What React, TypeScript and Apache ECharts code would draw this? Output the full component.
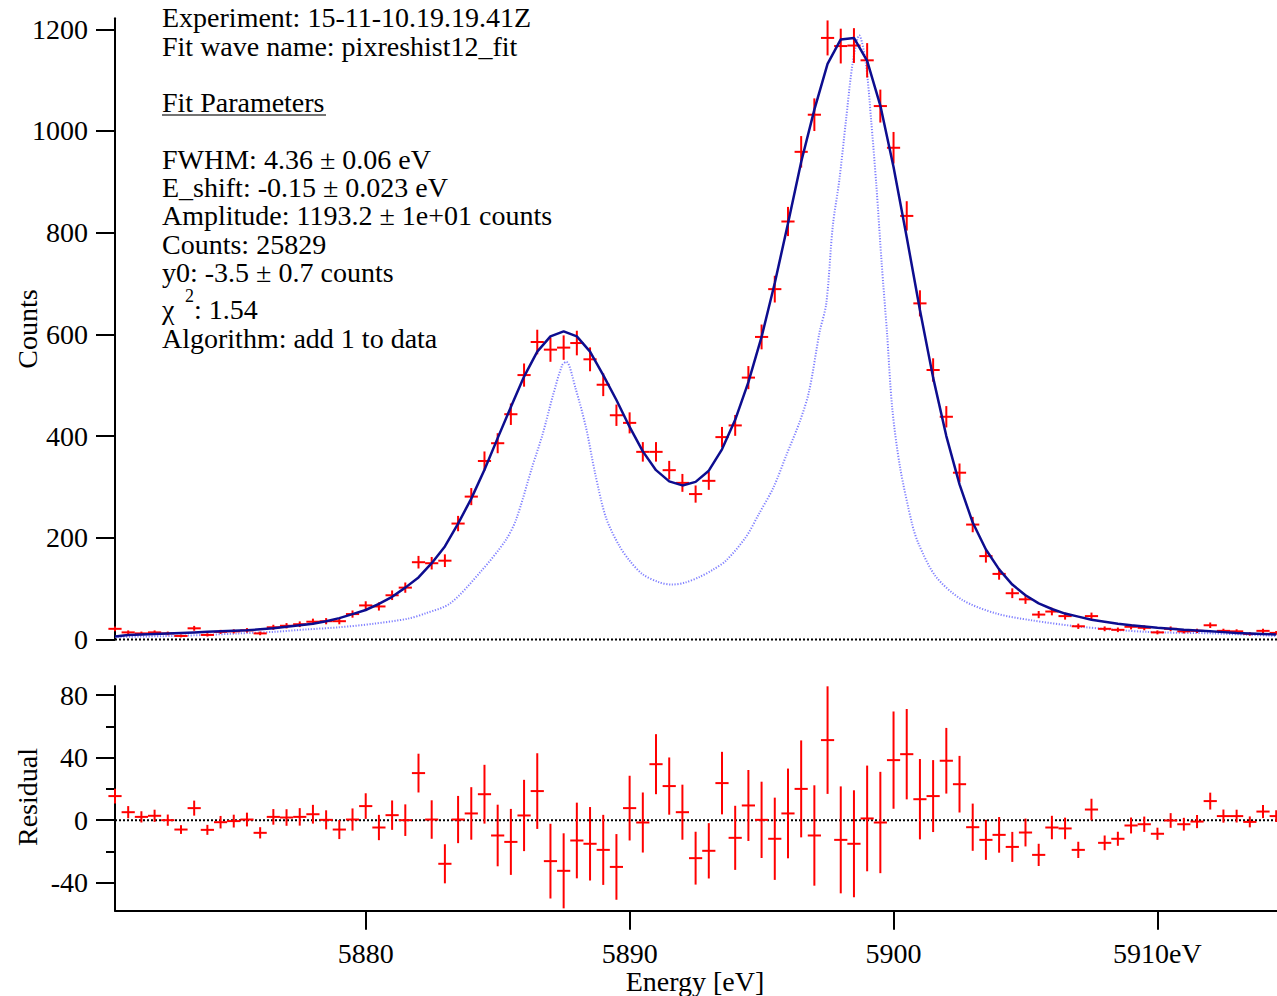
import React, { useEffect, useRef } from "react";
import * as echarts from "echarts";

// ---------- data ----------
const energies = [
  5870.5, 5871, 5871.5, 5872, 5872.5, 5873, 5873.5, 5874, 5874.5, 5875,
  5875.5, 5876, 5876.5, 5877, 5877.5, 5878, 5878.5, 5879, 5879.5, 5880,
  5880.5, 5881, 5881.5, 5882, 5882.5, 5883, 5883.5, 5884, 5884.5, 5885,
  5885.5, 5886, 5886.5, 5887, 5887.5, 5888, 5888.5, 5889, 5889.5, 5890,
  5890.5, 5891, 5891.5, 5892, 5892.5, 5893, 5893.5, 5894, 5894.5, 5895,
  5895.5, 5896, 5896.5, 5897, 5897.5, 5898, 5898.5, 5899, 5899.5, 5900,
  5900.5, 5901, 5901.5, 5902, 5902.5, 5903, 5903.5, 5904, 5904.5, 5905,
  5905.5, 5906, 5906.5, 5907, 5907.5, 5908, 5908.5, 5909, 5909.5, 5910,
  5910.5, 5911, 5911.5, 5912, 5912.5, 5913, 5913.5, 5914, 5914.5,
];

const counts = [
  21, 14, 12, 14, 12, 7, 22, 9, 15, 16,
  18, 12, 24, 27, 30, 35, 36, 36, 50, 67,
  65, 87, 102, 152, 150, 155, 228, 281, 351, 386,
  443, 520, 585, 570, 574, 583, 551, 501, 441, 426,
  369, 369, 333, 308, 286, 312, 398, 421, 515, 595,
  689, 822, 959, 1032, 1183, 1167, 1168, 1139, 1049, 967,
  833, 661, 530, 438, 328, 226, 164, 129, 91, 79,
  49, 55, 46, 26, 46, 21, 19, 25, 23, 14,
  21, 16, 17, 28, 17, 16, 11, 17, 13,
];

const countErrors = [
  4.7, 3.9, 3.6, 3.9, 3.6, 2.8, 4.8, 3.2, 4.0, 4.1,
  4.4, 3.6, 5.0, 5.3, 5.6, 6.0, 6.1, 6.1, 7.1, 8.2,
  8.1, 9.4, 10.1, 12.4, 12.3, 12.5, 15.1, 16.8, 18.8, 19.7,
  21.1, 22.8, 24.2, 23.9, 24.0, 24.2, 23.5, 22.4, 21.0, 20.7,
  19.2, 19.2, 18.3, 17.6, 16.9, 17.7, 20.0, 20.5, 22.7, 24.4,
  26.3, 28.7, 31.0, 32.1, 34.4, 34.2, 34.2, 33.8, 32.4, 31.1,
  28.9, 25.7, 23.0, 21.0, 18.1, 15.1, 12.8, 11.4, 9.6, 8.9,
  7.1, 7.5, 6.9, 5.2, 6.9, 4.7, 4.5, 5.1, 4.9, 3.9,
  4.7, 4.1, 4.2, 5.4, 4.2, 4.1, 3.5, 4.2, 3.7,
];

const fitCounts = [
  6, 9, 10, 11, 12, 13, 14, 15, 16, 17,
  18, 20, 22, 25, 28, 31, 36, 42, 50, 58,
  70, 84, 102, 122, 150, 183, 228, 277, 334, 396,
  457, 517, 566, 596, 606, 596, 566, 520, 471, 418,
  370, 333, 311, 303, 310, 332, 374, 432, 506, 595,
  701, 818, 939, 1042, 1132, 1180, 1183, 1138, 1050, 929,
  791, 648, 515, 400, 305, 230, 177, 138, 108, 87,
  71, 60, 51, 45, 39, 35, 31, 28, 25.5, 23,
  21, 19, 17.5, 16, 14.5, 13, 12, 11, 10,
];

const residuals = [
  15.4, 5.1, 2.1, 2.8, 0, -6, 7.7, -6.2, -1.3, -0.6,
  0.4, -8.1, 2.1, 1.7, 2.1, 3.8, 0.2, -6, 0.4, 9,
  -4.7, 3.2, 0, 30.1, 0.4, -27.9, 0.4, 4.3, 16.6, -9.8,
  -13.9, 3, 18.6, -26.2, -32.4, -13, -15.1, -19, -29.9, 7.7,
  -1.5, 35.8, 21.8, 5.1, -24.3, -19.6, 23.7, -11.3, 9.4, 0.2,
  -11.9, 4.3, 20, -9.8, 51.2, -12.6, -15.1, 1.1, -1.5, 38.4,
  42.2, 13.4, 15.4, 38, 23, -4.5, -12.6, -9.4, -17.1, -7.9,
  -22.2, -4.7, -5.3, -19, 6.8, -14.5, -11.9, -3.4, -2.6, -8.7,
  -0.2, -2.6, -0.9, 12.2, 2.6, 2.6, -1.1, 5.5, 2.6,
];

// intrinsic line shape (dotted light-blue curve)
const shapeEnergies = [
  5870.5, 5872.7, 5873.9, 5875.2, 5876.5, 5877.8, 5879.0, 5880.3, 5881.6, 5882.3,
  5883.2, 5884.4, 5885.3, 5885.7, 5886.3, 5886.7, 5887.1, 5887.45, 5887.6, 5887.95,
  5888.35, 5888.7, 5889.1, 5889.6, 5890.0, 5890.5, 5891.1, 5891.6, 5892.1, 5892.65,
  5893.15, 5893.65, 5894.4, 5894.9, 5895.45, 5895.95, 5896.45, 5896.8, 5897.2, 5897.45,
  5897.7, 5897.95, 5898.2, 5898.45, 5898.7, 5898.95, 5899.15, 5899.35, 5899.55, 5899.75,
  5899.95, 5900.25, 5900.7, 5900.95, 5901.6, 5902.6, 5903.9, 5905.2, 5907.1, 5909.6,
  5912.1, 5914.5,
];
const shapeCounts = [
  5, 7, 9, 12, 15, 20, 24, 31, 41, 52,
  71, 136, 195, 236, 338, 403, 481, 540, 546, 494,
  416, 325, 240, 185, 155, 128, 113, 108, 112, 123,
  137, 155, 201, 247, 299, 364, 429, 488, 605, 660,
  814, 905, 1022, 1133, 1188, 1133, 1022, 892, 740, 605,
  455, 338, 228, 188, 124, 78, 51, 38, 25, 15,
  12, 7,
];

const countTicks = [0, 200, 400, 600, 800, 1000, 1200];
const residualTicks = [-40, 0, 40, 80];
const residualMinorTicks = [-20, 20, 60];
const energyTicks = [5880, 5890, 5900, 5910];

const infoLines = [
  "Experiment: 15-11-10.19.19.41Z",
  "Fit wave name: pixreshist12_fit",
  "",
  "Fit Parameters",
  "",
  "FWHM: 4.36 ± 0.06 eV",
  "E_shift: -0.15 ± 0.023 eV",
  "Amplitude: 1193.2 ± 1e+01 counts",
  "Counts: 25829",
  "y0: -3.5 ± 0.7 counts",
];

// ---------- layout constants ----------
const X_MIN = 5870.5;
const X_MAX = 5914.53;
const FONT = '"Liberation Serif", "Times New Roman", Times, serif';
const RED = "#ff0000";

function crossRenderer(params: any, api: any) {
  const x = api.value(0);
  const y = api.value(1);
  const e = api.value(2);
  const top = api.coord([x, y + e]);
  const bot = api.coord([x, y - e]);
  const l = api.coord([x - 0.25, y]);
  const r = api.coord([x + 0.25, y]);
  const style = { stroke: RED, lineWidth: 2, fill: null };
  return {
    type: "group",
    children: [
      { type: "line", shape: { x1: top[0], y1: top[1], x2: bot[0], y2: bot[1] }, style },
      { type: "line", shape: { x1: l[0], y1: l[1], x2: r[0], y2: r[1] }, style },
    ],
  };
}

function textEl(text: string, x: number, y: number, size = 28, extra: any = {}) {
  return {
    type: "text",
    x,
    y,
    silent: true,
    ...extra,
    style: {
      text,
      fontSize: size,
      fontFamily: FONT,
      fill: "#000",
      align: extra.align || "left",
      textAlign: extra.align || "left",
      verticalAlign: "middle",
      textVerticalAlign: "middle",
    },
  };
}

export default function App() {
  const ref = useRef<HTMLDivElement>(null);

  useEffect(() => {
    document.body.style.margin = "0";
    if (!ref.current) return;
    const chart = echarts.init(ref.current, undefined, { renderer: "svg" });

    const axisLineStyle = { color: "#000", width: 2 };
    const labelStyle = { fontSize: 28, fontFamily: FONT, color: "#000" };
    const plain = (v: number) => String(v);

    const topCross = energies.map((e, i) => [e, counts[i], countErrors[i]]);
    const resCross = energies.map((e, i) => [e, residuals[i], countErrors[i]]);
    const fitLine = energies.map((e, i) => [e, fitCounts[i]]);
    const shapeLine = shapeEnergies.map((e, i) => [e, shapeCounts[i]]);
    const zeroLine = [
      [X_MIN, 0],
      [X_MAX, 0],
    ];

    const lineTop = 27.3 - 9.5;
    const pitch = 28.3;
    const graphics: any[] = [];
    infoLines.forEach((t, i) => {
      if (t) graphics.push(textEl(t, 162, lineTop + i * pitch));
    });
    graphics.push({
      type: "line",
      silent: true,
      shape: { x1: 162, y1: 115, x2: 326, y2: 115 },
      style: { stroke: "#444", lineWidth: 1.5 },
    });
    graphics.push(textEl("χ", 162, 309.8));
    graphics.push(textEl("2", 185, 296, 18));
    graphics.push(textEl(": 1.54", 194, 309.8));
    graphics.push(textEl("Algorithm: add 1 to data", 162, 338.2));
    graphics.push(textEl("Counts", 27, 329, 28, { rotation: Math.PI / 2, align: "center" }));
    graphics.push(textEl("Residual", 27, 797, 28, { rotation: Math.PI / 2, align: "center" }));
    graphics.push(textEl("Energy [eV]", 695, 981, 28, { align: "center" }));

    chart.setOption({
      animation: false,
      backgroundColor: "#fff",
      grid: [
        { left: 115, width: 1162, top: 18.3, height: 621.2 },
        { left: 115, width: 1162, top: 686, height: 224.7 },
      ],
      xAxis: [
        { gridIndex: 0, type: "value", min: X_MIN, max: X_MAX, show: false },
        {
          gridIndex: 1,
          type: "value",
          min: X_MIN,
          max: X_MAX,
          axisLine: { show: true, onZero: false, lineStyle: axisLineStyle },
          axisTick: { show: true, customValues: energyTicks, length: 19, lineStyle: axisLineStyle },
          axisLabel: {
            ...labelStyle,
            customValues: energyTicks,
            margin: 29,
            formatter: (v: number) => (v === 5910 ? "5910eV" : String(v)),
          },
          splitLine: { show: false },
        },
      ],
      yAxis: [
        {
          gridIndex: 0,
          type: "value",
          min: 0,
          max: 1221.6,
          axisLine: { show: true, onZero: false, lineStyle: axisLineStyle },
          axisTick: { show: true, customValues: countTicks, length: 19, lineStyle: axisLineStyle },
          axisLabel: { ...labelStyle, customValues: countTicks, margin: 27, formatter: plain },
          splitLine: { show: false },
        },
        {
          gridIndex: 1,
          type: "value",
          min: -57.9,
          max: 85.8,
          axisLine: { show: true, onZero: false, lineStyle: axisLineStyle },
          axisTick: { show: true, customValues: residualTicks, length: 19, lineStyle: axisLineStyle },
          axisLabel: { ...labelStyle, customValues: residualTicks, margin: 27, formatter: plain },
          splitLine: { show: false },
        },
        {
          gridIndex: 1,
          type: "value",
          position: "left",
          min: -57.9,
          max: 85.8,
          axisLine: { show: false, onZero: false },
          axisTick: { show: true, customValues: residualMinorTicks, length: 9, lineStyle: axisLineStyle },
          axisLabel: { show: false },
          splitLine: { show: false },
        },
      ],
      series: [
        {
          type: "line",
          xAxisIndex: 0,
          yAxisIndex: 0,
          data: shapeLine,
          showSymbol: false,
          silent: true,
          smooth: 0.3,
          z: 1,
          lineStyle: { color: "#8080ff", width: 2, type: [1.2, 1.6] },
        },
        {
          type: "line",
          xAxisIndex: 0,
          yAxisIndex: 0,
          data: zeroLine,
          showSymbol: false,
          silent: true,
          clip: false,
          z: 1,
          lineStyle: { color: "#000", width: 2, type: [2, 2] },
        },
        {
          type: "custom",
          xAxisIndex: 0,
          yAxisIndex: 0,
          data: topCross,
          renderItem: crossRenderer,
          encode: { x: 0, y: 1 },
          silent: true,
          z: 2,
        },
        {
          type: "line",
          xAxisIndex: 0,
          yAxisIndex: 0,
          data: fitLine,
          showSymbol: false,
          silent: true,
          z: 3,
          lineStyle: { color: "#0d0d8f", width: 2.5 },
        },
        {
          type: "line",
          xAxisIndex: 1,
          yAxisIndex: 1,
          data: zeroLine,
          showSymbol: false,
          silent: true,
          clip: false,
          z: 1,
          lineStyle: { color: "#000", width: 2, type: [2, 2] },
        },
        {
          type: "custom",
          xAxisIndex: 1,
          yAxisIndex: 1,
          data: resCross,
          renderItem: crossRenderer,
          encode: { x: 0, y: 1 },
          silent: true,
          z: 2,
        },
      ],
      graphic: graphics,
    });

    return () => {
      chart.dispose();
    };
  }, []);

  return <div ref={ref} style={{ width: 1277, height: 996 }} />;
}
